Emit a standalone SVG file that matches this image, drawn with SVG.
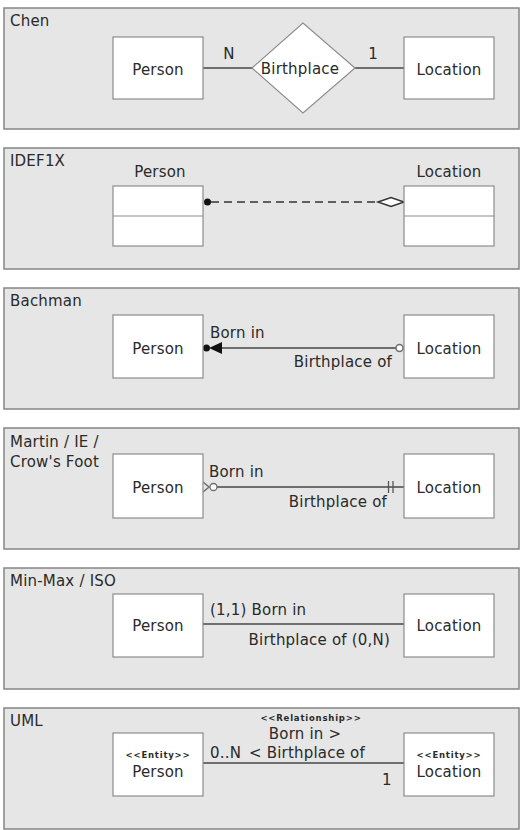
<svg xmlns="http://www.w3.org/2000/svg" width="527" height="830" viewBox="0 0 527 830">
<style>
.panel{fill:#e6e6e6;stroke:#858585;stroke-width:1.5}
.box{fill:#fff;stroke:#8c8c8c;stroke-width:1.2}
.t{font-family:"DejaVu Sans",sans-serif;font-size:15px;letter-spacing:0.2px;fill:#2a2a2a}
.m{text-anchor:middle}
.e{text-anchor:end}
.s{font-family:"DejaVu Sans",sans-serif;font-size:8.5px;letter-spacing:0.8px;font-weight:bold;fill:#2a2a2a;text-anchor:middle}
.ln{stroke:#6e6e6e;stroke-width:2;fill:none}
</style>
<rect width="527" height="830" fill="#fff"/>
<g id="panels">
<rect class="panel" x="4" y="8" width="515" height="121"/>
<rect class="panel" x="4" y="148" width="515" height="121"/>
<rect class="panel" x="4" y="288" width="515" height="121"/>
<rect class="panel" x="4" y="428" width="515" height="121"/>
<rect class="panel" x="4" y="568" width="515" height="121"/>
<rect class="panel" x="4" y="708" width="515" height="121"/>
<text class="t" x="10" y="26">Chen</text>
<text class="t" x="10" y="166">IDEF1X</text>
<text class="t" x="10" y="306">Bachman</text>
<text class="t" x="10" y="447">Martin / IE /</text>
<text class="t" x="10" y="467">Crow's Foot</text>
<text class="t" x="10" y="586">Min-Max / ISO</text>
<text class="t" x="10" y="726">UML</text>
</g>
<g id="connectors">
<line class="ln" x1="203" y1="68" x2="252" y2="68"/>
<line class="ln" x1="355" y1="68" x2="404" y2="68"/>
<text class="t m" x="229" y="59">N</text>
<text class="t m" x="373" y="59">1</text>
<line x1="211" y1="202" x2="378" y2="202" stroke="#333" stroke-width="1.5" stroke-dasharray="8,5"/>
<circle cx="207.5" cy="202" r="3.5" fill="#111"/>
<polygon points="378,202 391,197.5 404,202 391,206.5" fill="#fff" stroke="#333" stroke-width="1.5"/>
<line class="ln" x1="215" y1="348" x2="396" y2="348"/>
<circle cx="206.5" cy="348" r="3.5" fill="#111"/>
<polygon points="209,348 222,342 222,354" fill="#111"/>
<circle cx="399.5" cy="348" r="3.5" fill="#fff" stroke="#6e6e6e" stroke-width="1.5"/>
<text class="t" x="210" y="338">Born in</text>
<text class="t e" x="392" y="367">Birthplace of</text>
<line class="ln" x1="217" y1="487" x2="404" y2="487"/>
<polyline points="203,482 209,487 203,492" fill="none" stroke="#6e6e6e" stroke-width="1.5"/>
<circle cx="213.5" cy="487" r="3.5" fill="#fff" stroke="#6e6e6e" stroke-width="1.3"/>
<line x1="388.5" y1="481" x2="388.5" y2="493" stroke="#555" stroke-width="1.3"/>
<line x1="393" y1="481" x2="393" y2="493" stroke="#555" stroke-width="1.3"/>
<text class="t" x="209" y="477">Born in</text>
<text class="t e" x="387" y="507">Birthplace of</text>
<line class="ln" x1="203" y1="624" x2="404" y2="624"/>
<text class="t" x="210" y="615">(1,1) Born in</text>
<text class="t e" x="390" y="645">Birthplace of (0,N)</text>
<line class="ln" x1="203" y1="763" x2="404" y2="763"/>
<text class="s" x="311" y="721">&lt;&lt;Relationship&gt;&gt;</text>
<text class="t m" x="305" y="739">Born in &gt;</text>
<text class="t" x="249" y="758">&lt; Birthplace of</text>
<text class="t" x="210" y="758">0..N</text>
<text class="t" x="382" y="785">1</text>
</g>
<g id="chen-person"><rect class="box" x="113" y="37" width="90" height="62"/><text class="t m" x="158" y="75">Person</text></g>
<g id="chen-birthplace"><polygon points="252,68 303,23 355,68 303,113" class="box"/><text class="t m" x="300" y="74">Birthplace</text></g>
<g id="chen-location"><rect class="box" x="404" y="37" width="90" height="62"/><text class="t m" x="449" y="75">Location</text></g>
<g id="idef-person"><text class="t m" x="160" y="177">Person</text><rect class="box" x="113" y="186" width="90" height="60"/><line x1="113" y1="216" x2="203" y2="216" stroke="#8c8c8c" stroke-width="1.2"/></g>
<g id="idef-location"><text class="t m" x="449" y="177">Location</text><rect class="box" x="404" y="186" width="90" height="60"/><line x1="404" y1="216" x2="494" y2="216" stroke="#8c8c8c" stroke-width="1.2"/></g>
<g id="bachman-person"><rect class="box" x="113" y="315" width="90" height="63"/><text class="t m" x="158" y="354">Person</text></g>
<g id="bachman-location"><rect class="box" x="404" y="315" width="90" height="63"/><text class="t m" x="449" y="354">Location</text></g>
<g id="martin-person"><rect class="box" x="113" y="454" width="90" height="64"/><text class="t m" x="158" y="493">Person</text></g>
<g id="martin-location"><rect class="box" x="404" y="454" width="90" height="64"/><text class="t m" x="449" y="493">Location</text></g>
<g id="minmax-person"><rect class="box" x="113" y="594" width="90" height="63"/><text class="t m" x="158" y="631">Person</text></g>
<g id="minmax-location"><rect class="box" x="404" y="594" width="90" height="63"/><text class="t m" x="449" y="631">Location</text></g>
<g id="uml-person"><rect class="box" x="113" y="733" width="90" height="63"/><text class="s" x="158" y="758">&lt;&lt;Entity&gt;&gt;</text><text class="t m" x="158" y="777">Person</text></g>
<g id="uml-location"><rect class="box" x="404" y="733" width="90" height="63"/><text class="s" x="449" y="758">&lt;&lt;Entity&gt;&gt;</text><text class="t m" x="449" y="777">Location</text></g>
</svg>
